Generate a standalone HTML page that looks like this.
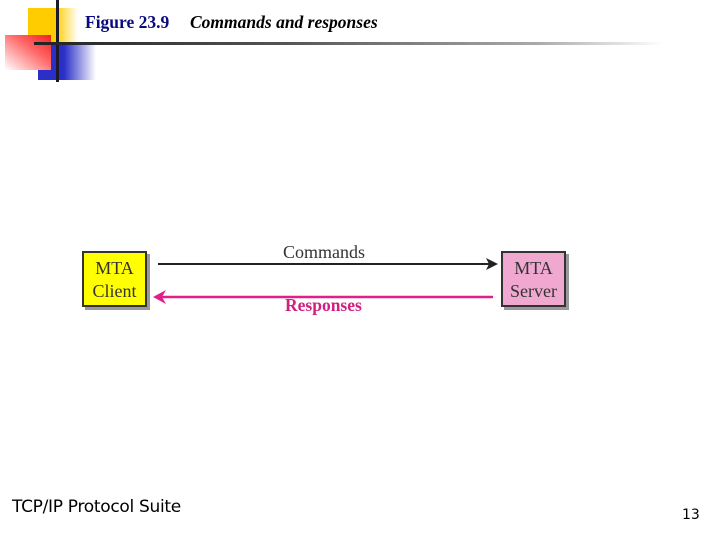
<!DOCTYPE html>
<html><head><meta charset="utf-8"><style>
body{margin:0;width:720px;height:540px;background:#fff;position:relative;overflow:hidden;font-family:"Liberation Serif",serif}
.a{position:absolute}
</style></head><body>
<div class="a" style="left:28px;top:8px;width:50px;height:36px;background:linear-gradient(to right,#ffcc00 0%,#ffcc00 55%,#fff 100%)"></div>
<div class="a" style="left:38px;top:45px;width:58px;height:35px;background:linear-gradient(to right,#2b2fc8 0%,#2b2fc8 45%,#fff 100%)"></div>
<div class="a" style="left:5px;top:35px;width:46px;height:35px;background:linear-gradient(to bottom left,#f02020 0%,#f66 40%,#fff 100%)"></div>
<div class="a" style="left:56px;top:0;width:3px;height:82px;background:#1a1a2a"></div>
<div class="a" style="left:34px;top:42px;width:630px;height:3px;background:linear-gradient(to right,#222 0%,#555 40%,#aaa 80%,#fff 100%)"></div>
<div class="a" style="left:85px;top:12px;font-size:17.5px;color:#0a0a80;font-weight:bold;white-space:nowrap">Figure 23.9</div>
<div class="a" style="left:190px;top:12px;font-size:17.5px;color:#000;font-weight:bold;font-style:italic;white-space:nowrap">Commands and responses</div>

<div class="a" style="left:85px;top:254px;width:65px;height:56px;background:#999"></div>
<div class="a" style="left:82px;top:251px;width:65px;height:56px;background:#ffff00;border:2px solid #333;font-size:18px;color:#333;text-align:center;line-height:23px;padding-top:4px;box-sizing:border-box">MTA<br>Client</div>
<div class="a" style="left:504px;top:254px;width:65px;height:56px;background:#999"></div>
<div class="a" style="left:501px;top:251px;width:65px;height:56px;background:#f0a8d0;border:2px solid #333;font-size:18px;color:#333;text-align:center;line-height:23px;padding-top:4px;box-sizing:border-box">MTA<br>Server</div>

<svg class="a" style="left:0;top:0" width="720" height="540">
<line x1="158" y1="264" x2="490" y2="264" stroke="#222" stroke-width="2"/>
<polygon points="498,264 486,258 489,264 486,270" fill="#222"/>
<line x1="162" y1="297" x2="493" y2="297" stroke="#e0208a" stroke-width="2.5"/>
<polygon points="153,297 166,290 162,297 166,304" fill="#e0208a"/>
</svg>
<div class="a" style="left:283px;top:242px;font-size:18px;color:#333">Commands</div>
<div class="a" style="left:285px;top:295px;font-size:17.5px;color:#d02080;font-weight:bold">Responses</div>

<div class="a" style="left:12px;top:497px;font-family:'DejaVu Sans',sans-serif;font-size:17px;color:#000;letter-spacing:-0.3px">TCP/IP Protocol Suite</div>
<div class="a" style="left:682px;top:507px;font-family:'DejaVu Sans',sans-serif;font-size:14px;color:#000">13</div>
</body></html>
